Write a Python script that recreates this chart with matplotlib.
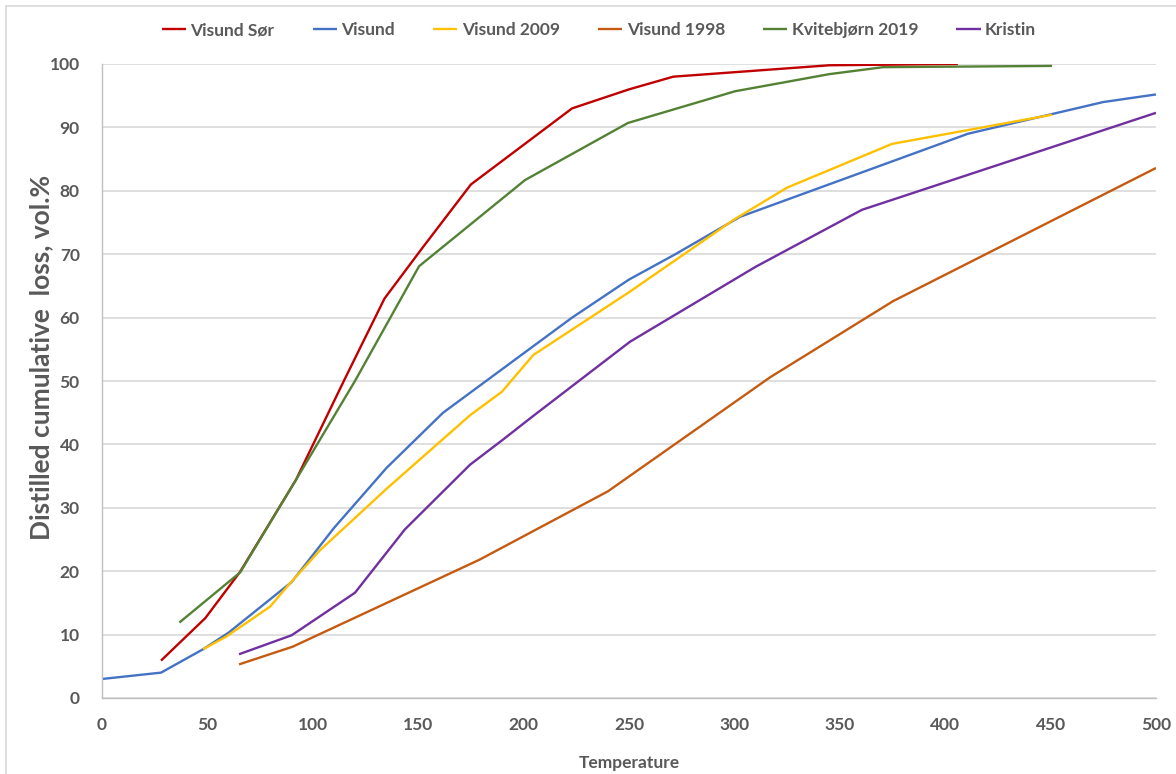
import matplotlib
matplotlib.use("Agg")
import matplotlib.pyplot as plt
from matplotlib.lines import Line2D

# Distillation curves: temperature vs. distilled cumulative loss (vol.%)
visund_sor_t = [28, 49, 65.5, 92, 115, 134, 152, 175, 223, 250, 271, 345, 406]
visund_sor_v = [5.9, 12.6, 19.9, 34.4, 50.2, 63, 71, 81, 93, 96, 98, 99.8, 100]

visund_t = [0, 28, 48, 60, 90, 110, 135, 161.8, 223, 250, 272, 302.7, 410.8, 475, 500]
visund_v = [3, 4.0, 7.7, 10.3, 18.3, 26.8, 36.3, 45, 60, 66, 70, 75.9, 89, 94, 95.2]

visund2009_t = [48, 59, 79.7, 89.2, 103.4, 135, 174.6, 189.7, 204.6, 250, 300, 325, 374.8, 450.7]
visund2009_v = [7.7, 9.7, 14.4, 18.1, 23.3, 33, 44.6, 48.3, 54.1, 64, 75.5, 80.5, 87.4, 92]

visund1998_t = [65, 90.5, 179, 240, 317, 375.3, 500]
visund1998_v = [5.3, 8.1, 21.8, 32.6, 50.6, 62.6, 83.6]

kvitebjorn_t = [36.7, 65.5, 92, 120, 150.4, 200.7, 249.5, 300.3, 345, 370.5, 450.7]
kvitebjorn_v = [11.9, 19.8, 34.4, 50, 68.1, 81.7, 90.7, 95.7, 98.4, 99.5, 99.7]

kristin_t = [65, 90, 120, 143.7, 174.6, 190, 205, 250.5, 310, 360.5, 500]
kristin_v = [6.9, 9.9, 16.6, 26.6, 36.8, 40.7, 44.6, 56.2, 68, 77, 92.3]

series = [
    ("Visund Sør", visund_sor_t, visund_sor_v, "#C00000"),
    ("Visund", visund_t, visund_v, "#4472C4"),
    ("Visund 2009", visund2009_t, visund2009_v, "#FFC000"),
    ("Visund 1998", visund1998_t, visund1998_v, "#C55A11"),
    ("Kvitebjørn 2019", kvitebjorn_t, kvitebjorn_v, "#548235"),
    ("Kristin", kristin_t, kristin_v, "#7030A0"),
]

x_ticks = [0, 50, 100, 150, 200, 250, 300, 350, 400, 450, 500]
y_ticks = [0, 10, 20, 30, 40, 50, 60, 70, 80, 90, 100]

plt.rcParams["font.family"] = ["Lato", "DejaVu Sans"]
text_color = "#595959"

W, H = 1176, 774
fig = plt.figure(figsize=(W / 100, H / 100), dpi=100)
ax = fig.add_axes([102 / W, 1 - 698 / H, (1156 - 102) / W, (698 - 64) / H])

for name, t, v, c in series:
    ax.plot(t, v, color=c, lw=1.7, label=name, solid_capstyle="butt")

ax.set_xlim(0, 500)
ax.set_ylim(0, 100)
ax.set_xticks(x_ticks)
ax.set_yticks(y_ticks)
ax.tick_params(length=0, labelsize=12.5, colors=text_color)
ax.tick_params(axis="x", pad=14)
ax.tick_params(axis="y", pad=16)
for lbl in ax.get_xticklabels() + ax.get_yticklabels():
    lbl.set_fontweight("bold")

ax.grid(axis="y", color="#D9D9D9", lw=1.2)
ax.set_axisbelow(True)
for s in ["top", "right"]:
    ax.spines[s].set_visible(False)
for s in ["left", "bottom"]:
    ax.spines[s].set_color("#BFBFBF")
    ax.spines[s].set_linewidth(1.0)

# axis titles
fig.text(41 / W, 1 - 357 / H, "Distilled cumulative  loss, vol.%", rotation=90,
         ha="center", va="center", fontsize=19, fontweight="bold", color=text_color)
fig.text(629 / W, 1 - 763 / H, "Temperature", ha="center", va="center",
         fontsize=12.5, fontweight="bold", color=text_color)

handles, labels = ax.get_legend_handles_labels()
fig.legend(handles, labels, loc="center", bbox_to_anchor=(599 / W, 1 - 30 / H), ncol=6,
           frameon=False, handlelength=1.4, handletextpad=0.25, columnspacing=2.2,
           prop={"size": 12.5, "weight": "bold"}, labelcolor=text_color)

# outer chart border
fig.add_artist(Line2D([6 / W, 1.0], [1 - 6 / H, 1 - 6 / H], transform=fig.transFigure,
                      color="#D9D9D9", lw=1.2))
fig.add_artist(Line2D([6 / W, 6 / W], [0.0, 1 - 6 / H], transform=fig.transFigure,
                      color="#D9D9D9", lw=1.2))

fig.savefig("out.png", dpi=100)
